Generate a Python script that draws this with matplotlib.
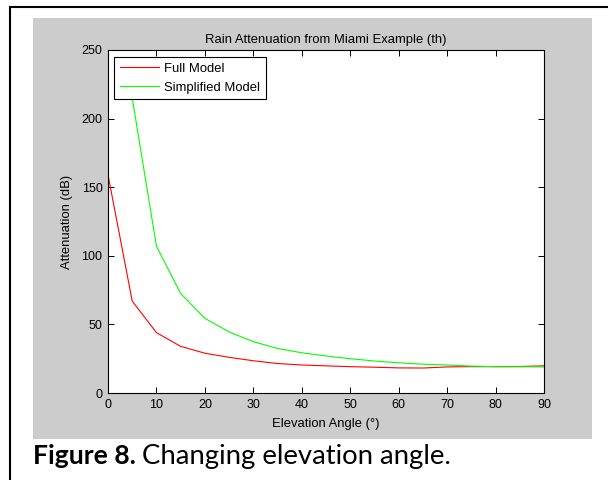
import matplotlib.pyplot as plt
from matplotlib.patches import Rectangle
from matplotlib.lines import Line2D

# elevation angle (deg)
angle_full = [0, 5, 10, 15, 20, 25, 30, 35, 40, 45, 50, 55, 60, 65, 70, 75, 80, 85, 90]
full_model = [159, 67, 44, 34, 29, 26, 23.5, 21.5, 20.4, 19.8, 19.2, 18.8, 18.3, 18.2,
              19.0, 19.2, 19.2, 19.3, 19.8]

angle_simple = [5, 10, 15, 20, 25, 30, 35, 40, 45, 50, 55, 60, 65, 70, 75, 80, 85, 90]
simplified_model = [215, 107, 72.5, 54.4, 44.5, 37.4, 32.5, 29.3, 27, 25, 23.3, 22,
                    21, 20.4, 19.6, 19.2, 19.1, 19.0]

x_ticks = [0, 10, 20, 30, 40, 50, 60, 70, 80, 90]
y_ticks = [0, 50, 100, 150, 200, 250]

W, H = 608, 480
fig = plt.figure(figsize=(W / 100, H / 100), dpi=100)
fig.patch.set_facecolor("white")

# page border (left and top visible)
fig.add_artist(Line2D([10 / W, 10 / W], [0, 1 - 7 / H], color="black", lw=1.5,
                      transform=fig.transFigure))
fig.add_artist(Line2D([10 / W, 1], [1 - 7 / H, 1 - 7 / H], color="black", lw=1.5,
                      transform=fig.transFigure))

# grey matlab figure area
fig.add_artist(Rectangle((33 / W, 1 - 439 / H), (592 - 33) / W, (439 - 18) / H,
                         facecolor="#cccccc", edgecolor="none",
                         transform=fig.transFigure, zorder=0))

ax = fig.add_axes([108 / W, 1 - 393 / H, (544 - 108) / W, (393 - 50) / H])
ax.set_facecolor("white")
ax.set_zorder(2)

font = "Liberation Sans"
ax.plot(angle_full, full_model, color="#ff0000", lw=0.8, label="Full Model")
ax.plot(angle_simple, simplified_model, color="#00ff00", lw=0.8, label="Simplified Model")

ax.set_xlim(0, 90)
ax.set_ylim(0, 250)
ax.set_xticks(x_ticks)
ax.set_yticks(y_ticks)
ax.tick_params(direction="in", length=4, width=0.7, top=True, right=True,
               labelsize=9, pad=4)
for lab in ax.get_xticklabels() + ax.get_yticklabels():
    lab.set_fontfamily(font)
for sp in ax.spines.values():
    sp.set_linewidth(0.8)

ax.set_title("Rain Attenuation from Miami Example (th)", fontsize=9.4,
             family=font, pad=5)
ax.set_xlabel("Elevation Angle (°)", fontsize=9.4, family=font, labelpad=5)
ax.set_ylabel("Attenuation (dB)", fontsize=9.4, family=font, labelpad=6)

leg = ax.legend(loc="upper left", bbox_to_anchor=(0.014, 0.98), borderaxespad=0,
                fancybox=False, framealpha=1, edgecolor="black",
                prop={"family": font, "size": 9.4}, handlelength=3.0,
                borderpad=0.45, labelspacing=0.5, handletextpad=0.4)
leg.get_frame().set_linewidth(0.8)

# caption: fit each part to its span in the reference
r = fig.canvas.get_renderer()
base_y = 1 - 464 / H
cap1 = fig.text(33 / W, base_y, "Figure 8.", fontsize=10, fontweight="bold",
                family="Lato", va="baseline")
cap2 = fig.text(142 / W, base_y, "Changing elevation angle.", fontsize=10,
                family="Lato", va="baseline")
for t, span in ((cap1, 136 - 33), (cap2, 450 - 142)):
    w = t.get_window_extent(r).width
    t.set_fontsize(10 * span / w)

fig.savefig("out.png", dpi=100)
